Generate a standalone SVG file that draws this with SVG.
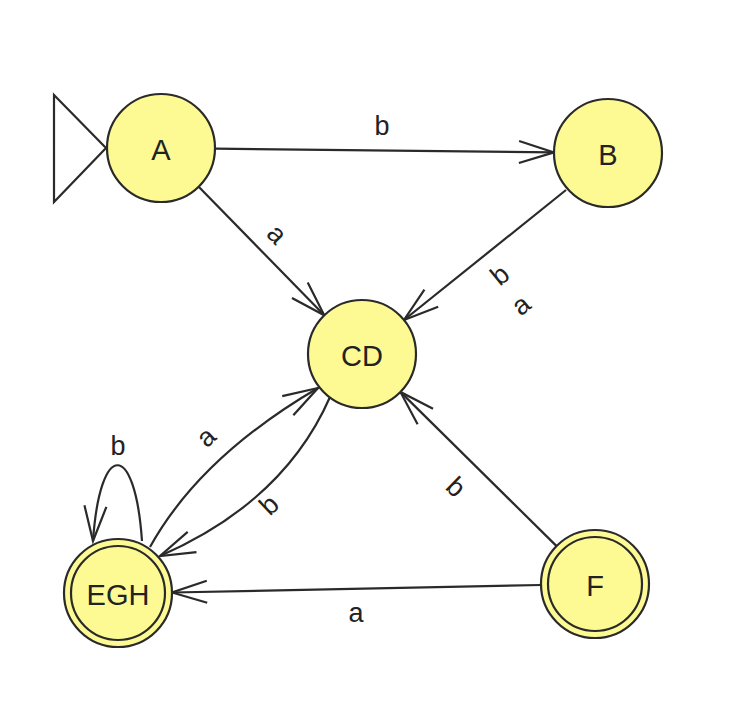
<svg xmlns="http://www.w3.org/2000/svg" width="749" height="704" viewBox="0 0 749 704">
<style>
.node{fill:#fdfa94;stroke:#2a2a2a;stroke-width:2.2}
.inner{fill:none;stroke:#2a2a2a;stroke-width:2.2}
.name{font-family:"Liberation Sans",Arial,sans-serif;font-size:29px;fill:#222;text-anchor:middle;dominant-baseline:central}
.edge{fill:none;stroke:#2a2a2a;stroke-width:2.2}
.lbl{font-family:"Liberation Sans",Arial,sans-serif;font-size:27px;fill:#222;text-anchor:middle;dominant-baseline:central}
</style>
<defs>
<marker id="arr" markerUnits="userSpaceOnUse" viewBox="-40 -15 45 30" markerWidth="45" markerHeight="30" refX="0" refY="0" orient="auto" overflow="visible">
<path d="M-35,-11 L0,0 L-35,11" fill="none" stroke="#2a2a2a" stroke-width="2.2"/>
</marker>
</defs>
<rect width="749" height="704" fill="#ffffff"/>
<g id="connectors">
<polygon points="54,95 106,148 54,202" fill="none" stroke="#2a2a2a" stroke-width="2.2"/>
<path class="edge" d="M215,148.6 L554,152.4" marker-end="url(#arr)"/>
<path class="edge" d="M198.7,186.7 L324.3,315.3" marker-end="url(#arr)"/>
<path class="edge" d="M566,190 L404,320" marker-end="url(#arr)"/>
<path class="edge" d="M556.6,546.1 L400.4,391.9" marker-end="url(#arr)"/>
<path class="edge" d="M541,585 L172,592.5" marker-end="url(#arr)"/>
<path class="edge" d="M150,547 Q200,457 318,388" marker-end="url(#arr)"/>
<path class="edge" d="M330,397 Q284,502 160,556" marker-end="url(#arr)"/>
<path class="edge" d="M142,541 C135,440 100,440 93,541" marker-end="url(#arr)"/>
<text class="lbl" x="382" y="126">b</text>
<text class="lbl" transform="translate(277,234) rotate(45.7)">a</text>
<text class="lbl" transform="translate(500,275) rotate(-39)">b</text>
<text class="lbl" transform="translate(521,305) rotate(-39)">a</text>
<text class="lbl" transform="translate(456,487) rotate(44.6)">b</text>
<text class="lbl" x="356" y="613">a</text>
<text class="lbl" transform="translate(206,437) rotate(-43)">a</text>
<text class="lbl" transform="translate(269,505) rotate(-43)">b</text>
<text class="lbl" x="118" y="446">b</text>
</g>
<g id="node-A">
<circle class="node" cx="161" cy="148" r="54"/>
<text class="name" x="161" y="150">A</text>
</g>
<g id="node-B">
<circle class="node" cx="608" cy="153" r="54"/>
<text class="name" x="608" y="155">B</text>
</g>
<g id="node-CD">
<circle class="node" cx="362" cy="354" r="54"/>
<text class="name" x="362" y="356">CD</text>
</g>
<g id="node-EGH">
<circle class="node" cx="118" cy="593" r="54"/>
<circle class="inner" cx="118" cy="593" r="47"/>
<text class="name" x="118" y="595">EGH</text>
</g>
<g id="node-F">
<circle class="node" cx="595" cy="584" r="54"/>
<circle class="inner" cx="595" cy="584" r="47"/>
<text class="name" x="595" y="586">F</text>
</g>
</svg>
